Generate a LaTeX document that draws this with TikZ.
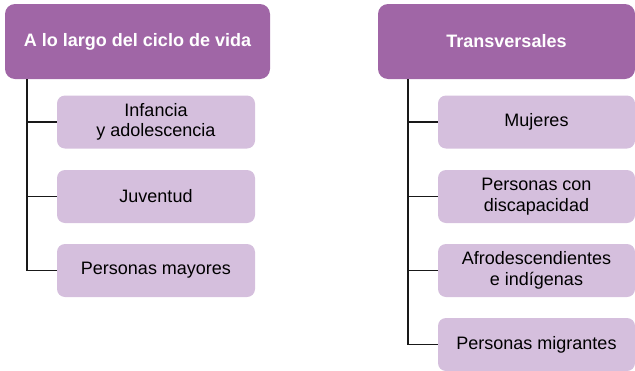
\documentclass[tikz,border=0pt]{standalone}
\usepackage{fontspec}
\setmainfont{Liberation Sans}
\definecolor{hdr}{RGB}{160,102,166}
\definecolor{sub}{RGB}{213,191,221}
\begin{document}
\begin{tikzpicture}[x=1pt,y=-1pt,
  header/.style={fill=hdr,rounded corners=10pt,text=white,font=\fontsize{18}{21}\selectfont\bfseries,minimum height=75pt,inner sep=0pt},
  subbox/.style={fill=sub,rounded corners=8pt,text=black,font=\fontsize{18}{20.5}\selectfont,minimum height=53pt,inner sep=0pt,align=center},
  link/.style={draw=black!90,line width=1.5pt}]
\useasboundingbox (0,0) rectangle (635,370);
% left column
\node[header,minimum width=265pt] (hl) at (137.5,41.5) {A lo largo del ciclo de vida};
\node[subbox,minimum width=198pt] (l1) at (156,122) {Infancia\\y adolescencia};
\node[subbox,minimum width=198pt] (l2) at (156,196.5) {Juventud};
\node[subbox,minimum width=198pt] (l3) at (156,270.5) {Personas mayores};
% right column
\node[header,minimum width=257pt] (hr) at (506.5,41.5) {Transversales};
\node[subbox,minimum width=197pt] (r1) at (536.5,122) {Mujeres};
\node[subbox,minimum width=197pt] (r2) at (536.5,196.5) {Personas con\\discapacidad};
\node[subbox,minimum width=197pt] (r3) at (536.5,270.5) {Afrodescendientes\\e indígenas};
\node[subbox,minimum width=197pt] (r4) at (536.5,344.5) {Personas migrantes};
% connectors
\coordinate (tl) at ([xshift=22pt]hl.south west);
\coordinate (tr) at ([xshift=30pt]hr.south west);
\draw[link] (tl) |- (l1.west);
\draw[link] (tl) |- (l2.west);
\draw[link] (tl) |- (l3.west);
\draw[link] (tr) |- (r1.west);
\draw[link] (tr) |- (r2.west);
\draw[link] (tr) |- (r3.west);
\draw[link] (tr) |- (r4.west);
\end{tikzpicture}
\end{document}
